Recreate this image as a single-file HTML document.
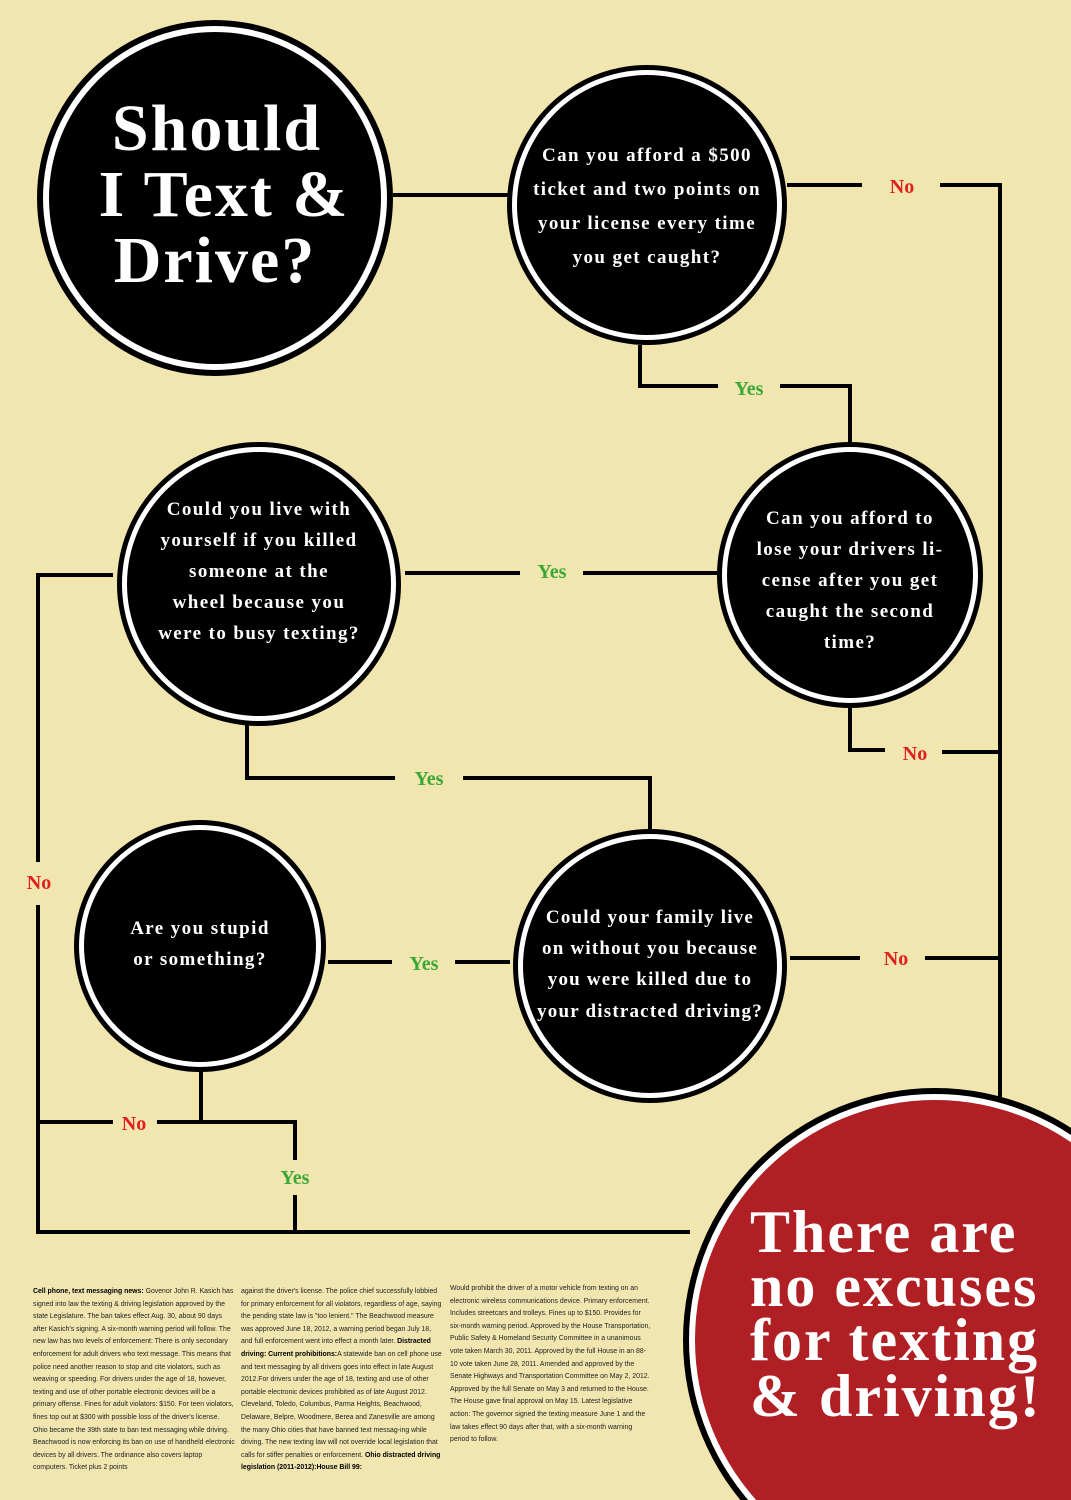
<!DOCTYPE html>
<html><head><meta charset="utf-8"><style>
body{margin:0;background:#f1e5b0;overflow:hidden;}
#wrap{position:relative;width:1071px;height:1500px;overflow:hidden;background:#f1e5b0;}
svg{position:absolute;left:0;top:0;}
.col{position:absolute;top:1286px;width:202px;font-family:"Liberation Sans",sans-serif;font-size:6.9px;line-height:12.6px;color:#222;}
.col b{color:#000;}
</style></head><body>
<div id="wrap">
<svg width="1071" height="1500" viewBox="0 0 1071 1500">
<g stroke="#000" stroke-width="4" fill="none">
<path d="M393 195H509"/>
<path d="M787 185H862M940 185H1000V1100"/>
<path d="M640 345V386H718M780 386H850V442"/>
<path d="M405 573H520M583 573H718"/>
<path d="M850 707V750H885M942 752H1000"/>
<path d="M113 575H38V862M38 905V1232H690"/>
<path d="M247 722V778H395M463 778H650V833"/>
<path d="M328 962H392M455 962H510"/>
<path d="M790 958H860M925 958H1000"/>
<path d="M201 1068V1122M38 1122H113M157 1122H295V1160M295 1195V1232"/>
</g>
<g><circle cx="215" cy="198" r="178" fill="#000"/><circle cx="215" cy="198" r="172" fill="#fff"/><circle cx="215" cy="198" r="166" fill="#000"/></g>
<g><circle cx="647" cy="205" r="140" fill="#000"/><circle cx="647" cy="205" r="135" fill="#fff"/><circle cx="647" cy="205" r="130" fill="#000"/></g>
<g><circle cx="850" cy="575" r="133" fill="#000"/><circle cx="850" cy="575" r="128" fill="#fff"/><circle cx="850" cy="575" r="123" fill="#000"/></g>
<g><circle cx="259" cy="584" r="142" fill="#000"/><circle cx="259" cy="584" r="137" fill="#fff"/><circle cx="259" cy="584" r="132" fill="#000"/></g>
<g><circle cx="650" cy="966" r="137" fill="#000"/><circle cx="650" cy="966" r="132" fill="#fff"/><circle cx="650" cy="966" r="127" fill="#000"/></g>
<g><circle cx="200" cy="946" r="126" fill="#000"/><circle cx="200" cy="946" r="121" fill="#fff"/><circle cx="200" cy="946" r="116" fill="#000"/></g>
<g><circle cx="935" cy="1340" r="252" fill="#000"/><circle cx="935" cy="1340" r="246" fill="#fff"/><circle cx="935" cy="1340" r="240" fill="#b01f24"/></g>
<g font-family="Liberation Serif, serif" font-weight="bold" fill="#fff" text-anchor="middle">
<g font-size="66" letter-spacing="2">
<text x="217" y="150">Should</text>
<text x="224" y="216">I Text &amp;</text>
<text x="215" y="282">Drive?</text></g>
<g font-size="19" letter-spacing="1.4">
<text x="647" y="161">Can you afford a $500</text><text x="647" y="195">ticket and two points on</text><text x="647" y="229">your license every time</text><text x="647" y="263">you get caught?</text></g>
<g font-size="19" letter-spacing="1.4">
<text x="850" y="524">Can you afford to</text><text x="850" y="555">lose your drivers li-</text><text x="850" y="586">cense after you get</text><text x="850" y="617">caught the second</text><text x="850" y="648">time?</text></g>
<g font-size="19" letter-spacing="1.4">
<text x="259" y="515">Could you live with</text><text x="259" y="546">yourself if you killed</text><text x="259" y="577">someone at the</text><text x="259" y="608">wheel because you</text><text x="259" y="639">were to busy texting?</text></g>
<g font-size="19" letter-spacing="1.2">
<text x="650" y="923">Could your family live</text><text x="650" y="954">on without you because</text><text x="650" y="985">you were killed due to</text><text x="650" y="1017">your distracted driving?</text></g>
<g font-size="19" letter-spacing="1.4">
<text x="200" y="934">Are you stupid</text><text x="200" y="965">or something?</text></g>
<g font-size="60" letter-spacing="2" text-anchor="start">
<text x="750" y="1252">There are</text><text x="750" y="1306">no excuses</text><text x="750" y="1360">for texting</text><text x="750" y="1416">&amp; driving!</text></g>
</g>
<g font-family="Liberation Serif, serif" font-weight="bold" font-size="20" text-anchor="middle">
<text x="902" y="193" fill="#e0201e">No</text>
<text x="749" y="395" fill="#3aa835">Yes</text>
<text x="552" y="578" fill="#3aa835">Yes</text>
<text x="915" y="760" fill="#e0201e">No</text>
<text x="39" y="889" fill="#e0201e">No</text>
<text x="429" y="785" fill="#3aa835">Yes</text>
<text x="424" y="970" fill="#3aa835">Yes</text>
<text x="896" y="965" fill="#e0201e">No</text>
<text x="134" y="1130" fill="#e0201e">No</text>
<text x="295" y="1184" fill="#3aa835">Yes</text>
</g>
</svg>
<div class="col" style="left:33px"><b>Cell phone, text messaging news:</b> Govenor John R. Kasich has signed into law the texting &amp; driving legislation approved by the state Legislature. The ban takes effect Aug. 30, about 90 days after Kasich's signing. A six-month warning period will follow. The new law has two levels of enforcement: There is only secondary enforcement for adult drivers who text message. This means that police need another reason to stop and cite violators, such as weaving or speeding. For drivers under the age of 18, however, texting and use of other portable electronic devices will be a primary offense. Fines for adult violators: $150. For teen violators, fines top out at $300 with possible loss of the driver's license. Ohio became the 39th state to ban text messaging while driving. Beachwood is now enforcing its ban on use of handheld electronic devices by all drivers. The ordinance also covers laptop computers. Ticket plus 2 points</div>
<div class="col" style="left:241px">against the driver's license. The police chief successfully lobbied for primary enforcement for all violators, regardless of age, saying the pending state law is "too lenient." The Beachwood measure was approved June 18, 2012, a warning period began July 18, and full enforcement went into effect a month later. <b>Distracted driving: Current prohibitions:</b>A statewide ban on cell phone use and text messaging by all drivers goes into effect in late August 2012.For drivers under the age of 18, texting and use of other portable electronic devices prohibited as of late August 2012. Cleveland, Toledo, Columbus, Parma Heights, Beachwood, Delaware, Belpre, Woodmere, Berea and Zanesville are among the many Ohio cities that have banned text messag-ing while driving. The new texting law will not override local legislation that calls for stiffer penalties or enforcement. <b>Ohio distracted driving legislation (2011-2012):House Bill 99:</b></div>
<div class="col" style="left:450px;top:1283px">Would prohibit the driver of a motor vehicle from texting on an electronic wireless communications device. Primary enforcement. Includes streetcars and trolleys. Fines up to $150. Provides for six-month warning period. Approved by the House Transportation, Public Safety &amp; Homeland Security Committee in a unanimous vote taken March 30, 2011. Approved by the full House in an 88-10 vote taken June 28, 2011. Amended and approved by the Senate Highways and Transportation Committee on May 2, 2012. Approved by the full Senate on May 3 and returned to the House. The House gave final approval on May 15. Latest legislative action: The governor signed the texting measure June 1 and the law takes effect 90 days after that, with a six-month warning period to follow.</div>
</div>
</body></html>
